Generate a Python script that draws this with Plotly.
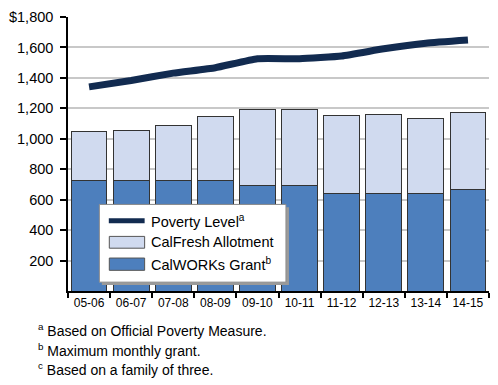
import plotly.graph_objects as go

years = ["05-06", "06-07", "07-08", "08-09", "09-10", "10-11", "11-12", "12-13", "13-14", "14-15"]
calworks = [723, 723, 723, 723, 694, 694, 638, 638, 638, 670]
calfresh = [322, 333, 363, 424, 498, 500, 517, 522, 496, 505]
poverty = [1341, 1383, 1431, 1467, 1526, 1526, 1544, 1591, 1628, 1649]
ytick_vals = [200, 400, 600, 800, 1000, 1200, 1400, 1600, 1800]
ytick_text = ["200", "400", "600", "800", "1,000", "1,200", "1,400", "1,600", "$1,800"]
legend_labels = ["Poverty Level<sup>a</sup>", "CalFresh Allotment", "CalWORKs Grant<sup>b</sup>"]
footnotes = [
    "<sup>a</sup> Based on Official Poverty Measure.",
    "<sup>b</sup> Maximum monthly grant.",
    "<sup>c</sup> Based on a family of three.",
]

C_WORKS = "#4d7fbd"
C_FRESH = "#d0daef"
C_POV = "#122b50"
FONT = "Liberation Sans, Arial, sans-serif"

W, H = 498, 385
L, R, T, B = 66, 9, 13, 93.5
PW = W - L - R
PH = H - T - B


def px(x):
    return (x - L) / PW


def py(y):
    return (H - B - y) / PH


fig = go.Figure()
fig.add_trace(go.Bar(x=years, y=calworks, name="CalWORKs Grant", marker=dict(color=C_WORKS, line=dict(color="#333333", width=1)), showlegend=False))
fig.add_trace(go.Bar(x=years, y=calfresh, name="CalFresh Allotment", marker=dict(color=C_FRESH, line=dict(color="#333333", width=1)), showlegend=False))
fig.add_trace(go.Scatter(x=years, y=poverty, mode="lines", name="Poverty Level", line=dict(color=C_POV, width=7, shape="spline", smoothing=0.4), showlegend=False))

shapes = []
annotations = []
# legend shadow and box
shapes.append(dict(type="rect", xref="paper", yref="paper", x0=px(100), x1=px(288), y0=py(285.5), y1=py(206.5), fillcolor="#9a9a9a", line=dict(width=0), layer="above"))
shapes.append(dict(type="rect", xref="paper", yref="paper", x0=px(97.5), x1=px(285), y0=py(282.5), y1=py(203.5), fillcolor="white", line=dict(color="#8a8a8a", width=1), layer="above"))
# legend symbols
shapes.append(dict(type="line", xref="paper", yref="paper", x0=px(107), x1=px(143), y0=py(220), y1=py(220), line=dict(color=C_POV, width=5), layer="above"))
shapes.append(dict(type="rect", xref="paper", yref="paper", x0=px(107.5), x1=px(143), y0=py(248), y1=py(236), fillcolor=C_FRESH, line=dict(color="#555555", width=1), layer="above"))
shapes.append(dict(type="rect", xref="paper", yref="paper", x0=px(107.5), x1=px(143), y0=py(270.5), y1=py(258), fillcolor=C_WORKS, line=dict(color="#555555", width=1), layer="above"))
for lab, yy in zip(legend_labels, [220, 242, 264]):
    annotations.append(dict(text=lab, xref="paper", yref="paper", x=px(147), y=py(yy), xanchor="left", yanchor="middle", showarrow=False, font=dict(size=14.5, color="black", family=FONT)))
for note, yy in zip(footnotes, [331, 351, 371]):
    annotations.append(dict(text=note, xref="paper", yref="paper", x=px(34), y=py(yy), xanchor="left", yanchor="middle", showarrow=False, font=dict(size=14, color="black", family=FONT)))

fig.update_layout(
    width=W, height=H,
    margin=dict(l=L, r=R, t=T, b=B, pad=0),
    paper_bgcolor="white", plot_bgcolor="white",
    barmode="stack", bargap=0.15,
    font=dict(family=FONT, color="black"),
    shapes=shapes, annotations=annotations,
    xaxis=dict(
        type="category", tickson="boundaries", ticks="outside", ticklen=5, tickwidth=1.5, tickcolor="black",
        showline=True, linecolor="black", linewidth=2, showgrid=False,
        tickfont=dict(size=12, family=FONT, color="black"), range=[-0.5, 9.5],
    ),
    yaxis=dict(
        range=[0, 1800], tickvals=ytick_vals, ticktext=ytick_text, ticks="outside", ticklen=6, tickwidth=1.5, tickcolor="black",
        showline=True, linecolor="black", linewidth=1.5, showgrid=True, gridcolor="#c8c8c8", gridwidth=1.5,
        zeroline=False, tickfont=dict(size=14.5, family=FONT, color="black"), ticklabelstandoff=4,
    ),
)

fig.write_html("out.html")
